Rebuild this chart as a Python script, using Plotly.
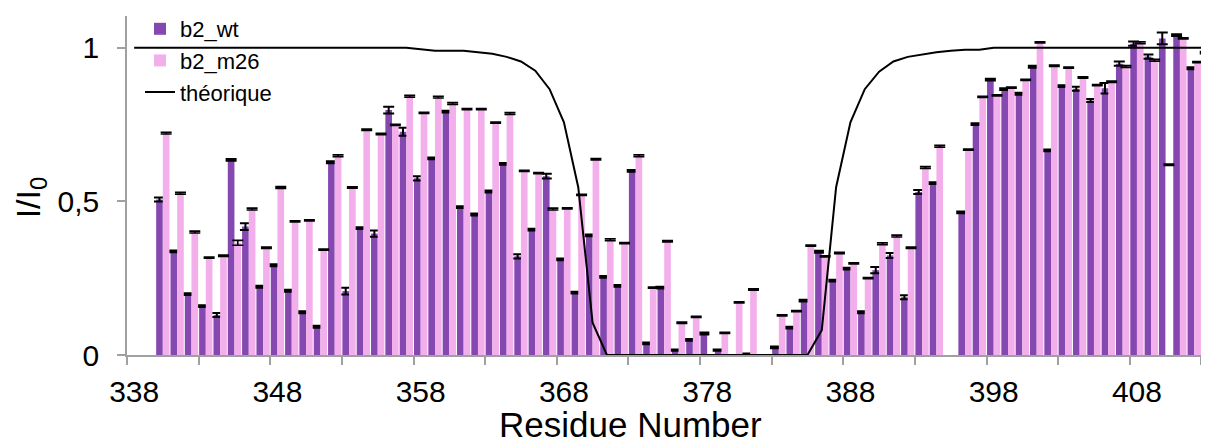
import plotly.graph_objects as go

residues = list(range(338, 414))

b2_wt = [None, None, 0.506, 0.337, 0.198, 0.159, 0.130, 0.635, 0.418, 0.222,
         0.292, 0.209, 0.139, 0.092, 0.627, 0.208, 0.413, 0.395, 0.797, 0.726,
         0.575, 0.640, 0.792, 0.481, 0.457, 0.532, 0.622, 0.321, 0.408, 0.582,
         0.311, 0.203, 0.389, 0.254, 0.225, 0.599, 0.038, 0.219, 0.016, 0.049,
         0.070, 0.016, None, 0.003, None, 0.025, 0.089, 0.177, 0.336, 0.242,
         0.281, 0.139, 0.276, 0.324, 0.188, 0.530, 0.559, None, 0.464, 0.751,
         0.896, 0.865, 0.850, 0.938, 0.666, 0.875, 0.866, 0.828, 0.868, 0.948,
         1.013, 0.971, 1.030, 1.041, 0.933, 0.984]

b2_m26 = [None, None, 0.722, 0.526, 0.400, 0.317, 0.323, 0.365, 0.475, 0.349,
          0.545, 0.435, 0.438, 0.343, 0.648, 0.545, 0.733, 0.719, 0.749, 0.842,
          0.788, 0.839, 0.818, 0.800, 0.800, 0.756, 0.786, 0.599, 0.592, 0.475,
          0.477, 0.521, 0.637, 0.375, 0.364, 0.648, 0.219, 0.370, 0.105, 0.124,
          None, 0.072, 0.171, 0.213, None, 0.129, 0.143, 0.356, 0.321, 0.332,
          0.298, 0.250, 0.362, 0.387, 0.349, 0.610, 0.679, None, 0.668, 0.840,
          0.845, 0.870, 0.895, 1.017, 0.941, 0.935, 0.903, 0.878, 0.889, 0.939,
          1.016, 0.959, 0.619, 1.030, 0.953, None]

err_wt = [0, 0, 0.0065, 0.003, 0.003, 0.003, 0.0065, 0.003, 0.011, 0.003,
          0.003, 0.003, 0.003, 0.003, 0.003, 0.011, 0.003, 0.010, 0.011, 0.013,
          0.007, 0.003, 0.003, 0.003, 0.003, 0.003, 0.003, 0.007, 0.003, 0.008,
          0.003, 0.003, 0.003, 0.003, 0.003, 0.003, 0.003, 0.003, 0.002, 0.003,
          0.003, 0.002, 0, 0.002, 0, 0.003, 0.003, 0.003, 0.003, 0.003,
          0.003, 0.003, 0.010, 0.008, 0.0065, 0.0065, 0.003, 0, 0.003, 0.003,
          0.003, 0.003, 0.003, 0.003, 0.003, 0.003, 0.0065, 0.005, 0.017, 0.007,
          0.007, 0.007, 0.019, 0.003, 0.003, 0.003]

err_m26 = [0, 0, 0.003, 0.003, 0.003, 0.002, 0.002, 0.008, 0.003, 0.002,
           0.003, 0.002, 0.002, 0.002, 0.003, 0.002, 0.002, 0.002, 0.002, 0.003,
           0.002, 0.003, 0.003, 0.002, 0.002, 0.002, 0.003, 0.002, 0.002, 0.003,
           0.002, 0.002, 0.002, 0.003, 0.002, 0.003, 0.002, 0.002, 0.002, 0.002,
           0, 0.002, 0.002, 0.002, 0, 0.002, 0.002, 0.002, 0.002, 0.002,
           0.002, 0.002, 0.003, 0.003, 0.002, 0.003, 0.003, 0, 0.002, 0.002,
           0.002, 0.002, 0.002, 0.002, 0.002, 0.002, 0.002, 0.002, 0.002, 0.003,
           0.003, 0.003, 0.002, 0.002, 0.002, 0]

theorique = [
    1.0, 1.0, 1.0, 1.0, 1.0, 1.0, 1.0, 1.0, 1.0, 1.0,
    1.0, 1.0, 1.0, 1.0, 1.0, 1.0, 1.0, 1.0, 1.0, 1.0,
    0.995, 0.99, 0.99, 0.99, 0.985, 0.98, 0.97, 0.955, 0.925, 0.865,
    0.757, 0.546, 0.105, 0.0, 0.0, 0.0, 0.0, 0.0, 0.0, 0.0,
    0.0, 0.0, 0.0, 0.0, 0.0, 0.0, 0.0, 0.0, 0.081, 0.546,
    0.757, 0.865, 0.922, 0.955, 0.97, 0.978, 0.985, 0.99, 0.993, 0.993,
    1.0, 1.0, 1.0, 1.0, 1.0, 1.0, 1.0, 1.0, 1.0, 1.0,
    1.0, 1.0, 1.0, 1.0, 1.0, 1.0]

x_tick_labels = [338, 348, 358, 368, 378, 388, 398, 408]
y_tick_vals = [0, 0.5, 1]
y_tick_text = ["0", "0,5", "1"]

PURPLE = "#8548B0"
PINK = "#F3AFEB"
AXIS = "#A0A0A0"

m26_colors = ["white" if r == 410 else PINK for r in residues]

fig = go.Figure()
fig.add_trace(go.Bar(
    x=residues, y=b2_wt, name="b2_wt", marker=dict(color=PURPLE, line=dict(width=0)),
    error_y=dict(type="data", array=err_wt, visible=True, color="black",
                 thickness=2, width=5.5),
))
fig.add_trace(go.Bar(
    x=residues, y=b2_m26, name="b2_m26", marker=dict(color=m26_colors, line=dict(width=0)),
    error_y=dict(type="data", array=err_m26, visible=True, color="black",
                 thickness=1.6, width=5.5),
))
fig.add_trace(go.Scatter(
    x=residues, y=theorique, name="théorique", mode="lines",
    line=dict(color="black", width=2),
))

# The page is shown with an 8px body margin, so the figure is 8px smaller
fig.update_layout(
    width=1201, height=435,
    margin=dict(l=119, r=0, t=7, b=88),
    plot_bgcolor="white", paper_bgcolor="white",
    barmode="group", bargap=0.07, bargroupgap=0,
    font=dict(family="Arial, Liberation Sans, sans-serif", color="black"),
    legend=dict(x=0.012, y=1.025, xanchor="left", yanchor="top",
                bgcolor="rgba(0,0,0,0)", font=dict(size=22),
                tracegroupgap=0, itemwidth=30),
    xaxis=dict(
        range=[337.5, 413.03], tickmode="array", tickvals=x_tick_labels,
        ticks="", showline=True, linecolor=AXIS, linewidth=1.5,
        tickfont=dict(size=30), ticklabelstandoff=9,
        showgrid=False, zeroline=False,
        minor=dict(tickmode="linear", tick0=337.5, dtick=5, ticks="outside",
                   ticklen=8, tickcolor=AXIS, tickwidth=1.5, showgrid=False),
    ),
    yaxis=dict(
        range=[0, 1.103], tickmode="array", tickvals=y_tick_vals, ticktext=y_tick_text,
        ticks="outside", ticklen=8, tickcolor=AXIS, tickwidth=1.5,
        showline=True, linecolor=AXIS, linewidth=1.5,
        tickfont=dict(size=30), ticklabelstandoff=12,
        showgrid=False, zeroline=False,
    ),
    annotations=[
        dict(text="Residue Number", xref="paper", yref="paper",
             x=(630 - 127) / 1082, y=-0.205, xanchor="center", yanchor="middle",
             showarrow=False, font=dict(size=35)),
        dict(text="I/I<sub>0</sub>", xref="paper", yref="paper",
             x=(30 - 127) / 1082, y=0.465, xanchor="center", yanchor="middle",
             textangle=-90, showarrow=False, font=dict(size=34)),
    ],
)

fig.write_html("out.html")
